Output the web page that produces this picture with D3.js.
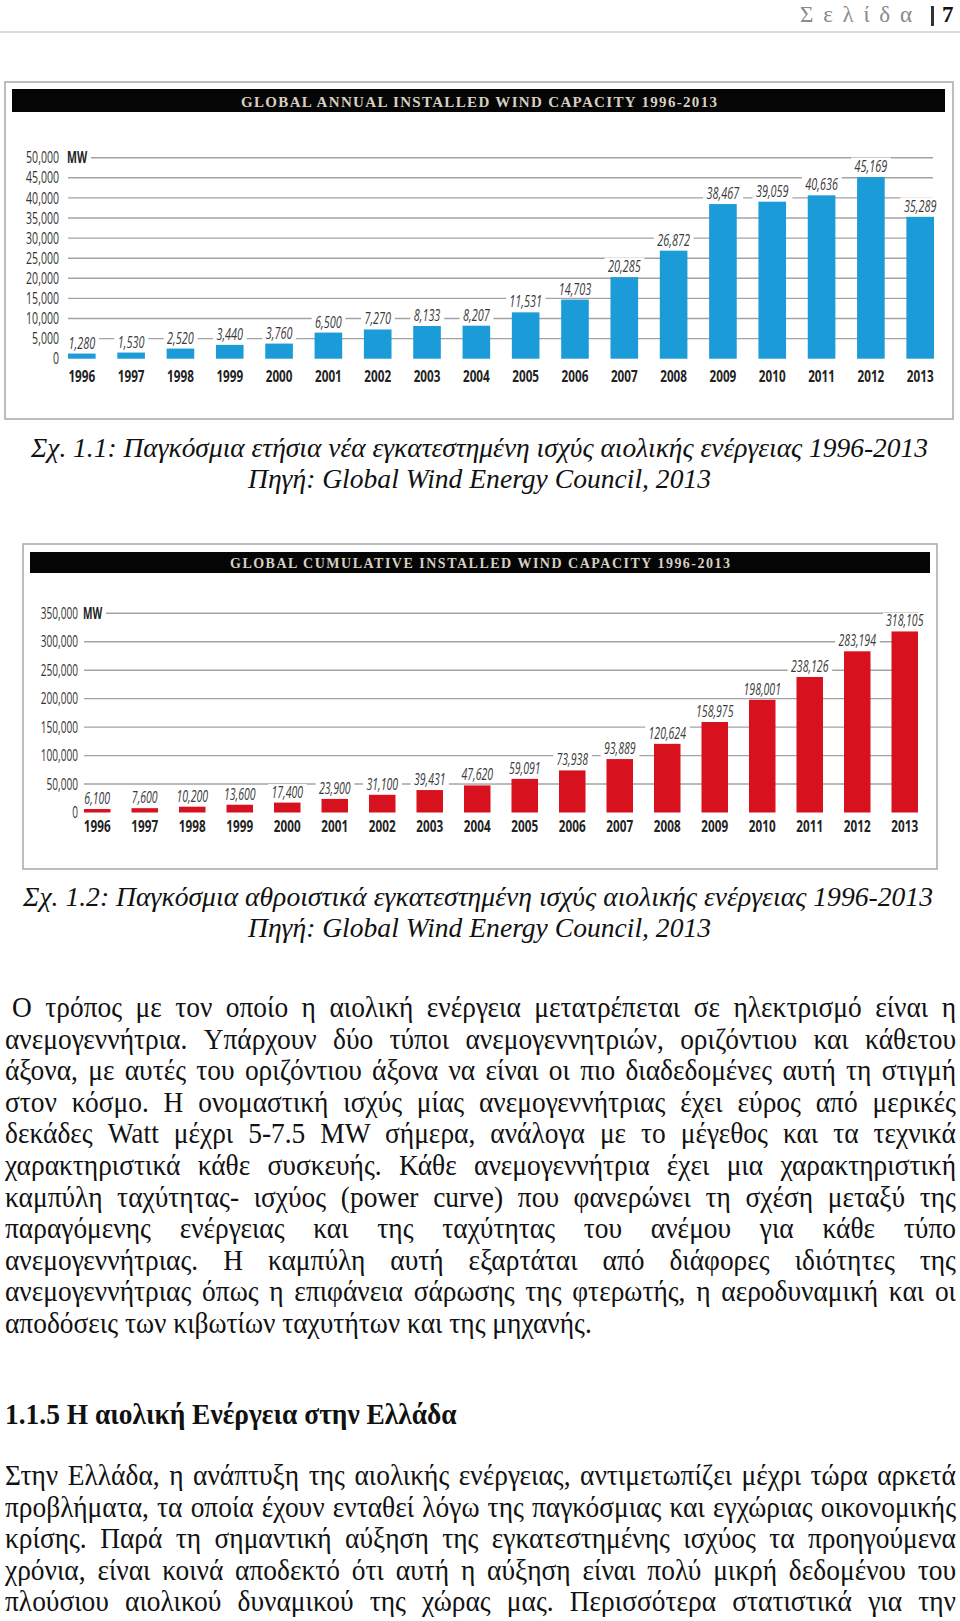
<!DOCTYPE html>
<html><head><meta charset="utf-8">
<script src="https://cdn.jsdelivr.net/npm/d3@7"></script>
<style>
body{margin:0;background:#fff;}
svg{display:block;}
</style></head><body>
<svg id="page" width="960" height="1621"></svg>
<script>
// ---------- DATA ----------
const years = ["1996","1997","1998","1999","2000","2001","2002","2003","2004","2005","2006","2007","2008","2009","2010","2011","2012","2013"];
const annualValues = [1280,1530,2520,3440,3760,6500,7270,8133,8207,11531,14703,20285,26872,38467,39059,40636,45169,35289];
const cumulativeValues = [6100,7600,10200,13600,17400,23900,31100,39431,47620,59091,73938,93889,120624,158975,198001,238126,283194,318105];
const annualTicks = [0,5000,10000,15000,20000,25000,30000,35000,40000,45000,50000];
const cumulativeTicks = [0,50000,100000,150000,200000,250000,300000,350000];
const unitLabel = "MW";
const annualTitle = "GLOBAL ANNUAL INSTALLED WIND CAPACITY 1996-2013";
const cumulativeTitle = "GLOBAL CUMULATIVE INSTALLED WIND CAPACITY 1996-2013";
const caption1 = ["Σχ. 1.1: Παγκόσμια ετήσια νέα εγκατεστημένη ισχύς αιολικής ενέργειας 1996-2013","Πηγή: Global Wind Energy Council, 2013"];
const caption2 = ["Σχ. 1.2: Παγκόσμια αθροιστικά εγκατεστημένη ισχύς αιολικής ενέργειας 1996-2013","Πηγή: Global Wind Energy Council, 2013"];
const para1 = [
"Ο τρόπος με τον οποίο η αιολική ενέργεια μετατρέπεται σε ηλεκτρισμό είναι η",
"ανεμογεννήτρια. Υπάρχουν δύο τύποι ανεμογεννητριών, οριζόντιου και κάθετου",
"άξονα, με αυτές του οριζόντιου άξονα να είναι οι πιο διαδεδομένες αυτή τη στιγμή",
"στον κόσμο. Η ονομαστική ισχύς μίας ανεμογεννήτριας έχει εύρος από μερικές",
"δεκάδες Watt μέχρι 5-7.5 MW σήμερα, ανάλογα με το μέγεθος και τα τεχνικά",
"χαρακτηριστικά κάθε συσκευής. Κάθε ανεμογεννήτρια έχει μια χαρακτηριστική",
"καμπύλη ταχύτητας- ισχύος (power curve) που φανερώνει τη σχέση μεταξύ της",
"παραγόμενης ενέργειας και της ταχύτητας του ανέμου για κάθε τύπο",
"ανεμογεννήτριας. Η καμπύλη αυτή εξαρτάται από διάφορες ιδιότητες της",
"ανεμογεννήτριας όπως η επιφάνεια σάρωσης της φτερωτής, η αεροδυναμική και οι",
"αποδόσεις των κιβωτίων ταχυτήτων και της μηχανής."
];
const heading = "1.1.5 Η αιολική Ενέργεια στην Ελλάδα";
const para2 = [
"Στην Ελλάδα, η ανάπτυξη της αιολικής ενέργειας, αντιμετωπίζει μέχρι τώρα αρκετά",
"προβλήματα, τα οποία έχουν ενταθεί λόγω της παγκόσμιας και εγχώριας οικονομικής",
"κρίσης. Παρά τη σημαντική αύξηση της εγκατεστημένης ισχύος τα προηγούμενα",
"χρόνια, είναι κοινά αποδεκτό ότι αυτή η αύξηση είναι πολύ μικρή δεδομένου του",
"πλούσιου αιολικού δυναμικού της χώρας μας. Περισσότερα στατιστικά για την"
];

// ---------- SETUP ----------
const svg = d3.select("#page");
const serif = "'Liberation Serif','Times New Roman',serif";
const sans = "'Open Sans','Liberation Sans',sans-serif";

// page header
svg.append("text").attr("x",800).attr("y",22).attr("font-family",serif).attr("font-size",23)
  .attr("fill","#8a8a8a").attr("textLength",112).attr("lengthAdjust","spacing").text("Σελίδα");
svg.append("rect").attr("x",931).attr("y",6).attr("width",3).attr("height",20).attr("fill","#333");
svg.append("text").attr("x",942).attr("y",22).attr("font-family",serif).attr("font-size",23)
  .attr("font-weight","bold").attr("fill","#111").text("7");
svg.append("line").attr("x1",0).attr("x2",960).attr("y1",32).attr("y2",32)
  .attr("stroke","#dcdcdc").attr("stroke-width",2);

// ---------- CHARTS ----------
function drawChart(cfg){
  const g = svg.append("g");
  g.append("rect").attr("x",cfg.box[0]).attr("y",cfg.box[1]).attr("width",cfg.box[2]).attr("height",cfg.box[3])
    .attr("fill","#fff").attr("stroke","#a8a8a8").attr("stroke-width",1.5);
  g.append("rect").attr("x",cfg.bar[0]).attr("y",cfg.bar[1]).attr("width",cfg.bar[2]).attr("height",cfg.bar[3])
    .attr("fill","#050505");
  g.append("text").attr("x",cfg.titleX).attr("y",cfg.titleY).attr("text-anchor","middle")
    .attr("font-family",serif).attr("font-size",cfg.titleSize).attr("font-weight","bold").attr("fill","#d8d0c2")
    .attr("textLength",cfg.titleLen).attr("lengthAdjust","spacing").text(cfg.title);

  const x = d3.scaleBand().domain(years).range(cfg.xRange).paddingInner(cfg.pad).paddingOuter(0);
  const y = d3.scaleLinear().domain([0,cfg.yMax]).range([cfg.y0,cfg.y1]);
  const top = cfg.ticks[cfg.ticks.length-1];

  // gridlines
  g.selectAll(".grid").data(cfg.ticks).join("line")
    .attr("x1",d=> d===top ? cfg.mwGridStart : cfg.gridStart).attr("x2",cfg.gridEnd)
    .attr("y1",d=>y(d)).attr("y2",d=>y(d))
    .attr("stroke",d=> d===0 ? "none" : "#a3a3a3").attr("stroke-width",1.4);

  // y axis labels via d3 axis
  const axis = d3.axisLeft(y).tickValues(cfg.ticks).tickFormat(d3.format(",")).tickSize(0).tickPadding(0);
  const ag = g.append("g").attr("transform",`translate(${cfg.labelX},0)`).call(axis);
  ag.select(".domain").remove();
  ag.selectAll("text").attr("font-family",sans).attr("font-size",cfg.tickSize).attr("fill","#333")
    .attr("transform",`scale(${cfg.tickF},1)`);
  g.append("text").attr("transform",`translate(${cfg.mwX},${y(top)}) scale(${cfg.tickF},1)`).attr("dy","0.35em")
    .attr("font-family",sans).attr("font-size",cfg.tickSize).attr("font-weight","bold").attr("fill","#222").text(unitLabel);

  // bars
  g.selectAll(".bar").data(cfg.values).join("rect")
    .attr("x",(d,i)=>x(years[i])).attr("width",x.bandwidth())
    .attr("y",d=>y(d)).attr("height",d=>cfg.y0-y(d)).attr("fill",cfg.color);

  // value labels with white knockout
  const lg = g.append("g");
  cfg.values.forEach((v,i)=>{
    const cx = x(years[i]) + x.bandwidth()/2;
    const vg = lg.append("g").attr("transform",`translate(${cx},${y(v)-5}) scale(${cfg.valF},1)`);
    const bg = vg.append("rect").attr("fill","#fff");
    const t = vg.append("text").attr("text-anchor","middle")
      .attr("font-family",sans).attr("font-style","italic").attr("font-size",cfg.valSize)
      .attr("fill","#3a3a3a").text(d3.format(",")(v));
    const b = t.node().getBBox();
    bg.attr("x",b.x-5).attr("y",b.y+3).attr("width",b.width+10).attr("height",b.height-5);
  });

  // year labels
  const xa = d3.axisBottom(x).tickSize(0).tickPadding(0);
  const xg = g.append("g").attr("transform",`translate(0,${cfg.yearY})`).call(xa);
  xg.select(".domain").remove();
  xg.selectAll("text").attr("dy",0).attr("y",0).attr("font-family",sans).attr("font-weight","bold")
    .attr("font-size",cfg.yearSize).attr("fill","#222").attr("transform",`scale(${cfg.yearF},1)`);
}

drawChart({values:annualValues, ticks:annualTicks, color:"#1b9bd7", title:annualTitle,
  box:[5,82,948,337], bar:[12,89,933,23], titleX:479, titleY:107, titleSize:15, titleLen:476,
  y0:358.7, y1:157.7, yMax:50000, xRange:[68,934], pad:0.44, labelX:59, gridStart:68, gridEnd:933,
  mwX:67, mwGridStart:91, yearY:382, tickSize:16, tickF:0.66, valSize:16, valF:0.68, yearSize:16.5, yearF:0.71});

drawChart({values:cumulativeValues, ticks:cumulativeTicks, color:"#d8111f", title:cumulativeTitle,
  box:[23,544,914,325], bar:[30,552,900,21], titleX:480, titleY:568, titleSize:14, titleLen:500,
  y0:812.5, y1:613.3, yMax:350000, xRange:[84,918], pad:0.442, labelX:78, gridStart:84, gridEnd:918,
  mwX:83, mwGridStart:106, yearY:832, tickSize:15.5, tickF:0.65, valSize:16, valF:0.66, yearSize:16.5, yearF:0.71});

// ---------- CAPTIONS ----------
function caption(lines, y1, y2, w1, cx1){
  svg.append("text").attr("x",cx1).attr("y",y1).attr("text-anchor","middle").attr("font-family",serif)
    .attr("font-style","italic").attr("font-size",28).attr("fill","#111")
    .attr("textLength",w1).attr("lengthAdjust","spacingAndGlyphs").text(lines[0]);
  svg.append("text").attr("x",479.5).attr("y",y2).attr("text-anchor","middle").attr("font-family",serif)
    .attr("font-style","italic").attr("font-size",28).attr("fill","#111")
    .attr("textLength",463).attr("lengthAdjust","spacingAndGlyphs").text(lines[1]);
}
caption(caption1, 457, 488, 897, 479.5);
caption(caption2, 906, 937, 910, 478);

// ---------- BODY TEXT ----------
const bodySize = 29;
// determine horizontal compression from the last (unjustified) line
const probe = svg.append("text").attr("font-family",serif).attr("font-size",bodySize).text(para1[para1.length-1]);
const sx = 587 / probe.node().getComputedTextLength();
probe.remove();

function bodyLine(str, x, y, width, justify, weight){
  const words = str.split(" ");
  const t = svg.append("text").attr("transform",`translate(${x},${y}) scale(${sx},1)`)
    .attr("font-family",serif).attr("font-size",bodySize).attr("font-weight",weight||"normal").attr("fill","#111");
  const spans = words.map((w,i)=> t.append("tspan").text(i<words.length-1 ? w+" " : w));
  const widths = spans.map(s=>s.node().getComputedTextLength());
  const total = d3.sum(widths);
  const extra = justify && words.length>1 ? (width/sx - total)/(words.length-1) : 0;
  let cx = 0;
  spans.forEach((s,i)=>{ s.attr("x",cx); cx += widths[i] + extra; });
}
const lh = 31.6;
para1.forEach((l,i)=> bodyLine(l, i===0?12:5, 1017 + i*lh, i===0?944:951, i<para1.length-1));
bodyLine(heading, 5, 1424, 450, false, "bold");
para2.forEach((l,i)=> bodyLine(l, 5, 1485 + i*lh, 951, true));
</script>
</body></html>
